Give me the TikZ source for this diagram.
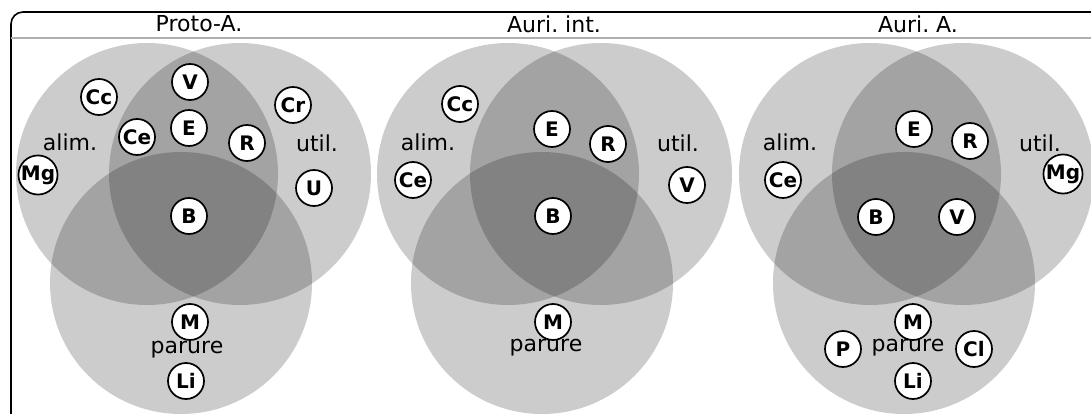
\documentclass[tikz,border=0pt]{standalone}
\usepackage{fontspec}
\setmainfont{DejaVu Sans}
\usepackage{xcolor}
\usepackage{tikz}
\usetikzlibrary{
	positioning,
	backgrounds
}
\definecolor{SepGray}{RGB}{175, 175, 175}
\tikzset{
	elem/.style={circle, draw, line width=1.7pt, fill=white, minimum size=36pt, inner sep=0pt, font=\bfseries\fontsize{20}{20}\selectfont},
	setlabel/.style={font=\fontsize{22}{22}\selectfont},
	paneltitle/.style={font=\fontsize{22}{22}\selectfont}
}

\begin{document}
\begin{tikzpicture}[x=1pt, y=-1pt]
		\clip (0,0) rectangle (1091,414);
		% the three sets of each panel
		\foreach \xo in {0, 361, 723} {
			\fill[black, fill opacity=0.2] (\xo+147,174) circle[radius=131pt];
			\fill[black, fill opacity=0.2] (\xo+240,174) circle[radius=131pt];
			\fill[black, fill opacity=0.2] (\xo+181,283) circle[radius=131pt];
		}
		\draw[line width=1.6pt, rounded corners=12pt] (11,12) rectangle (1104,430);
		\draw[SepGray, line width=1.2pt] (11,38) -- (1091,38);
		\node[paneltitle] (t1) at (199,24) {Proto-A.};
		\node[paneltitle] (t2) at (554,24) {Auri.\ int.};
		\node[paneltitle] (t3) at (918,24) {Auri.\ A.};
		% Proto-A.
		\node[setlabel] (alimA) at (70,142) {alim.};
		\node[setlabel] (utilA) at (317,143) {util.};
		\node[setlabel] (parA) at (187,350) {parure};
		\node[elem] (CcA) at (99,97) {Cc};
		\node[elem] (VA) at (190,82) {V};
		\node[elem] (CrA) at (293,105) {Cr};
		\node[elem] (CeA) at (137,137) {Ce};
		\node[elem] (EA) at (189,128) {E};
		\node[elem] (RA) at (247,143) {R};
		\node[elem] (MgA) at (38,175) {Mg};
		\node[elem] (UA) at (314,188) {U};
		\node[elem] (BA) at (189,216) {B};
		\node[elem] (MA) at (190,322) {M};
		\node[elem] (LiA) at (186,381) {Li};
		% Auri. int.
		\node[setlabel] (alimB) at (428,142) {alim.};
		\node[setlabel] (utilB) at (678,143) {util.};
		\node[setlabel] (parB) at (546,348) {parure};
		\node[elem] (CcB) at (460,104) {Cc};
		\node[elem] (CeB) at (413,180) {Ce};
		\node[elem] (EB) at (552,129) {E};
		\node[elem] (RB) at (608,144) {R};
		\node[elem] (VB) at (687,185) {V};
		\node[elem] (BB) at (553,216) {B};
		\node[elem] (MB) at (553,322) {M};
		% Auri. A.
		\node[setlabel] (alimC) at (790,142) {alim.};
		\node[setlabel] (utilC) at (1040,143) {util.};
		\node[setlabel] (parC) at (908,348) {parure};
		\node[elem] (CeC) at (783,180) {Ce};
		\node[elem] (EC) at (914,129) {E};
		\node[elem] (RC) at (970,141) {R};
		\node[elem] (MgC) at (1063,174) {Mg};
		\node[elem] (BC) at (876,217) {B};
		\node[elem] (VC) at (957,217) {V};
		\node[elem] (MC) at (913,322) {M};
		\node[elem] (PC) at (843,349) {P};
		\node[elem] (ClC) at (974,349) {Cl};
		\node[elem] (LiC) at (913,381) {Li};
	\end{tikzpicture}
\end{document}
